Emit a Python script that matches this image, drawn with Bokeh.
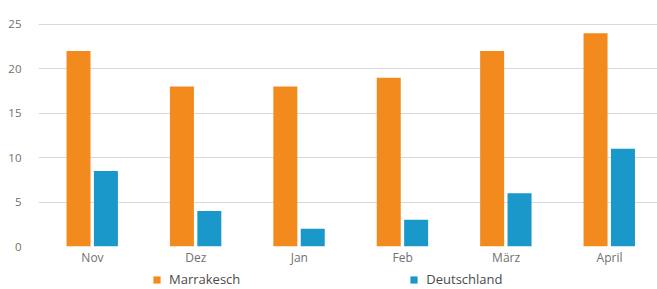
from bokeh.plotting import figure
from bokeh.layouts import column
from bokeh.models import Range1d, FixedTicker, Legend, LegendItem, ColumnDataSource
from bokeh.embed import file_html
from bokeh.resources import INLINE

months = ["Nov", "Dez", "Jan", "Feb", "März", "April"]
marrakesch = [22, 18, 18, 19, 22, 24]
deutschland = [8.5, 4, 2, 3, 6, 11]
y_ticks = [0, 5, 10, 15, 20, 25]
series_names = ["Marrakesch", "Deutschland"]
colors = ["#F28A1E", "#1A98C9"]

idx = list(range(len(months)))
src = ColumnDataSource(dict(
    x1=[i - 0.135 for i in idx], x2=[i + 0.13 for i in idx],
    m=marrakesch, d=deutschland))

font = "Open Sans"
W = 657

p = figure(width=W, height=268, output_backend="svg", toolbar_location=None,
           x_range=Range1d(-0.522, 5.464), y_range=Range1d(0, 26),
           min_border_left=38, min_border_right=0, min_border_top=15, min_border_bottom=19)
p.outline_line_color = None

p.vbar(x="x1", top="m", width=0.232, bottom=0, source=src,
       fill_color=colors[0], line_color=None)
p.vbar(x="x2", top="d", width=0.232, bottom=0, source=src,
       fill_color=colors[1], line_color=None)

p.yaxis.ticker = FixedTicker(ticks=y_ticks)
p.xaxis.ticker = FixedTicker(ticks=idx)
p.xaxis.major_label_overrides = {i: m for i, m in zip(idx, months)}
for ax in (p.xaxis, p.yaxis):
    ax.axis_line_color = None
    ax.major_tick_line_color = None
    ax.minor_tick_line_color = None
    ax.major_tick_out = 0
    ax.major_tick_in = 0
    ax.minor_tick_out = 0
    ax.minor_tick_in = 0
    ax.major_label_text_font = font
    ax.major_label_text_color = "#707070"
p.yaxis.major_label_text_font_size = "11.5px"
p.xaxis.major_label_text_font_size = "12px"
p.yaxis.major_label_standoff = 17
p.xaxis.major_label_standoff = 2
p.xgrid.grid_line_color = None
p.ygrid.grid_line_color = "#d8d8d8"
p.ygrid.grid_line_width = 1

# legend strip below the chart
lg = figure(width=W, height=21, output_backend="svg", toolbar_location=None,
            x_range=Range1d(0, 1), y_range=Range1d(0, 1),
            min_border_left=38, min_border_right=0, min_border_top=0, min_border_bottom=0)
lg.outline_line_color = None
lg.axis.visible = False
lg.grid.visible = False
lr1 = lg.vbar(x=[5], top=[5], width=0.1, fill_color=colors[0], line_color=None)
lr2 = lg.vbar(x=[5], top=[5], width=0.1, fill_color=colors[1], line_color=None)
legend = Legend(items=[LegendItem(label=series_names[0], renderers=[lr1]),
                       LegendItem(label=series_names[1], renderers=[lr2])],
                orientation="horizontal", location=(114, 1),
                spacing=169, glyph_width=9, glyph_height=9, label_standoff=8,
                label_text_font=font, label_text_font_size="13px",
                label_text_color="#4a4a4a", border_line_color=None,
                background_fill_alpha=0, margin=0, padding=1, label_height=14)
lg.add_layout(legend, "center")

layout = column(p, lg, spacing=0)
open("out.html", "w").write(file_html(layout, INLINE))
